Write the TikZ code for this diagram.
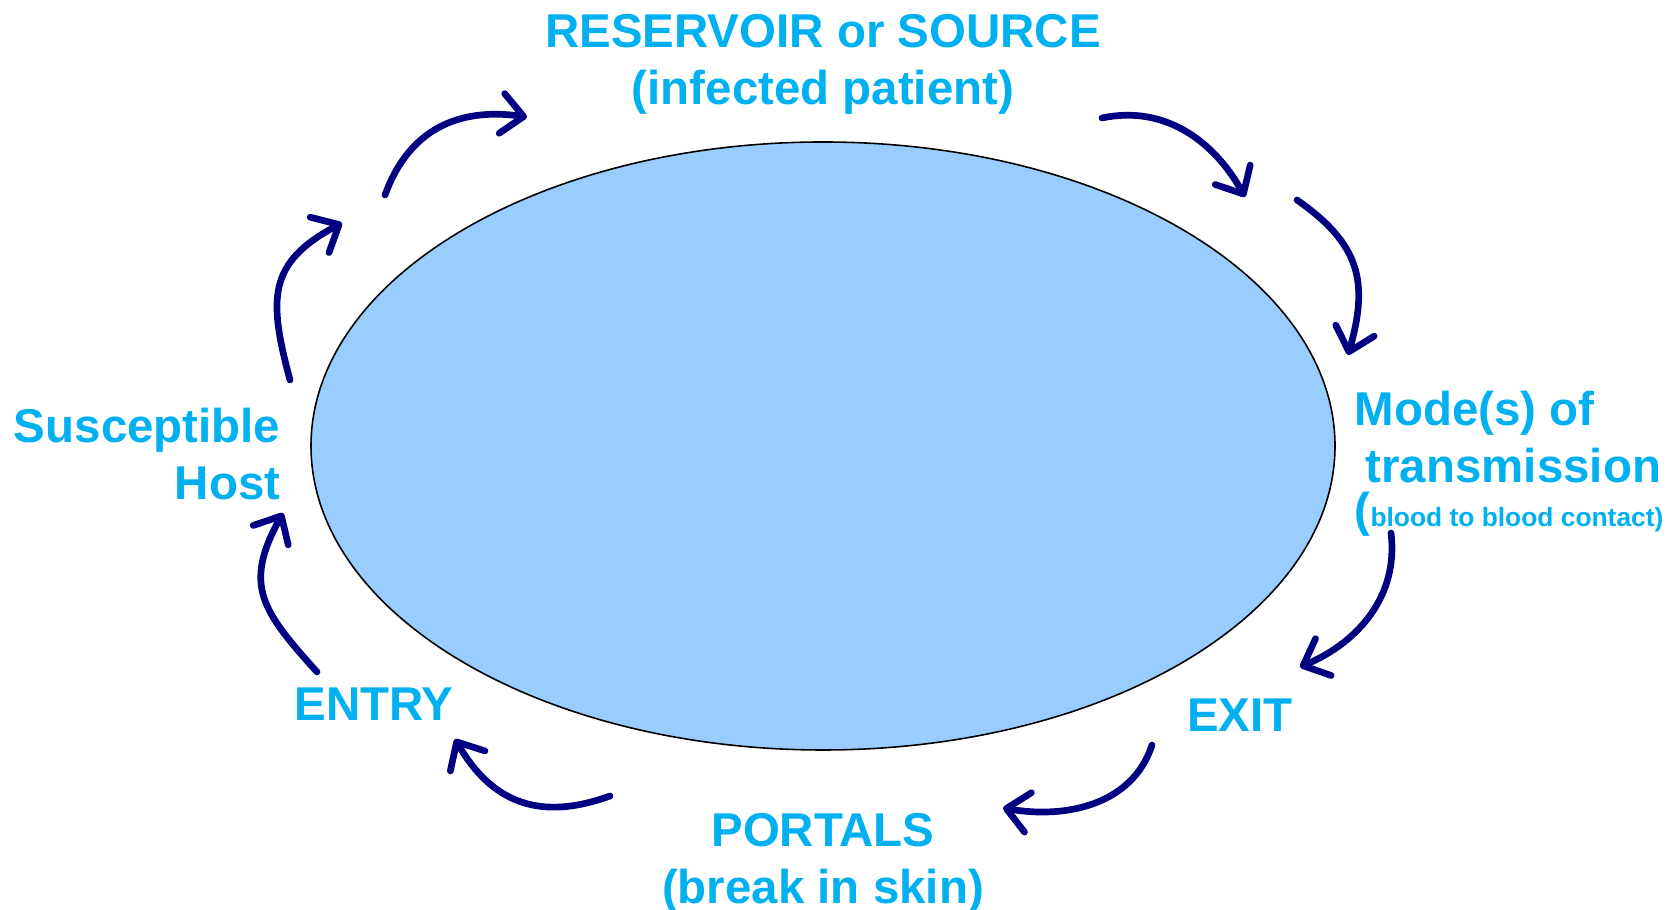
\documentclass[tikz,border=0pt]{standalone}
\usepackage{fontspec}
\setmainfont{Liberation Sans}
\usetikzlibrary{arrows.meta,shapes.geometric,positioning}
\definecolor{stagecyan}{RGB}{0,176,240}
\definecolor{arrownavy}{RGB}{0,0,128}
\definecolor{poolblue}{RGB}{153,204,255}
\tikzset{
    stagetext/.style={
    text=stagecyan,font=\fontsize{13.5pt}{16.2pt}\selectfont\bfseries,inner sep=0pt,align=center
    },
    flow/.style={
    draw=arrownavy,line width=1.9pt,line cap=round,-{Straight Barb[length=0.22cm,width=0.40cm,round]}
    },
    pool/.style={
    ellipse,draw=black,fill=poolblue,line width=0.45pt,minimum width=10.24cm,minimum height=6.08cm,inner sep=0pt
    },
}
\begin{document}
\begin{tikzpicture}
   \useasboundingbox (0,0) rectangle (16.78,9.10);
   %pool
   \node[pool] (pool) at (8.23,4.64) {};
   %reservoir
   \node[stagetext] (res) at (8.23,8.46) {RESERVOIR or SOURCE\\(infected patient)};
   %mode
   \node[stagetext,align=left,anchor=north west] (mode) at (13.54,5.20)
     {Mode(s) of\\\hspace*{0.11cm}transmission\\[-0.12cm](\fontsize{7.5pt}{9pt}\selectfont blood to blood contact)};
   %exit
   \node[stagetext] (exit) at (12.40,1.945) {EXIT};
   %portals
   \node[stagetext] (portals) at (8.23,0.465) {PORTALS\\(break in skin)};
   %entry
   \node[stagetext] (entry) at (3.74,2.06) {ENTRY};
   %host
   \node[stagetext,align=right,anchor=north east] (host) at (2.81,5.03) {Susceptible\\Host};

   %arrow ends
   \coordinate (h0) at (3.85,7.15);
   \coordinate (h1) at (5.27,7.93);
   \coordinate (m0) at (11.02,7.92);
   \coordinate (m1) at (12.45,7.13);
   \coordinate (m2) at (12.97,7.10);
   \coordinate (m3) at (13.48,5.55);
   \coordinate (x0) at (13.91,3.77);
   \coordinate (x1) at (13.00,2.43);
   \coordinate (p0) at (11.52,1.65);
   \coordinate (p1) at (10.03,1.02);
   \coordinate (e0) at (6.10,1.14);
   \coordinate (e1) at (4.55,1.71);
   \coordinate (s0) at (3.17,2.38);
   \coordinate (s1) at (2.83,3.97);
   \coordinate (s2) at (2.90,5.30);
   \coordinate (s3) at (3.42,6.87);

   \path[every edge/.style={flow}]
   %host to reservoir
    (s2) edge [out=105,in=208,looseness=1.3] (s3)
    (h0) edge [out=70,in=172,looseness=1.1] (h1)
   %reservoir to mode
    (m0) edge [out=12,in=119] (m1)
    (m2) edge [out=-35,in=74,looseness=1.2] (m3)
   %mode to exit
    (x0) edge [out=-83,in=23] (x1)
   %exit to portals
    (p0) edge [out=-108,in=350] (p1)
   %portals to entry
    (e0) edge [out=200,in=300,looseness=1.15] (e1)
   %entry to host
    (s0) edge [out=132,in=241,looseness=1.3] (s1)
   ;
\end{tikzpicture}
\end{document}
